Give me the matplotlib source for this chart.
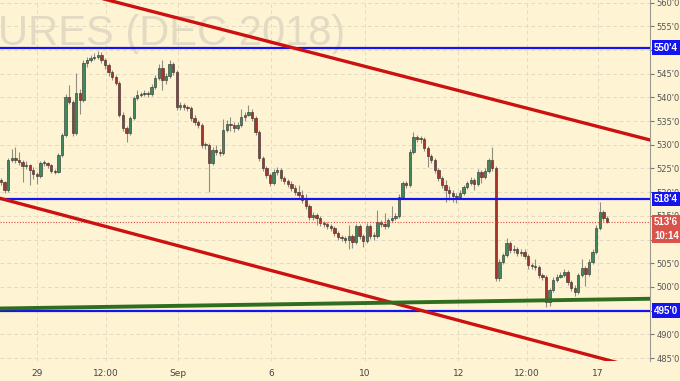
import numpy as np
import matplotlib.pyplot as plt
import matplotlib.transforms as mtransforms

# hourly-ish bars, price in cents
first_open = 522.6
closes = [522.1, 520.4, 526.8, 527.2, 526.8, 526.4, 525.5, 525.7, 524.7, 523.8,
          523.4, 526.1, 526.1, 525.7, 524.5, 524.3, 527.8, 532.0, 540.1, 539.0,
          532.5, 540.9, 539.4, 547.2, 547.9, 548.3, 548.5, 548.9, 547.9, 546.8,
          545.3, 544.3, 543.0, 536.3, 533.5, 532.5, 535.6, 539.9, 540.5, 540.7,
          540.9, 540.7, 542.2, 544.1, 546.2, 543.6, 544.5, 547.0, 545.3, 537.9,
          538.4, 537.9, 537.7, 535.6, 534.8, 534.1, 529.9, 529.9, 526.1, 528.9,
          528.5, 528.2, 533.1, 534.4, 534.1, 533.5, 534.1, 535.8, 536.3, 536.9,
          535.6, 532.7, 527.2, 525.1, 523.6, 521.9, 524.2, 524.7, 523.0, 522.3,
          521.7, 520.9, 520.0, 519.4, 518.3, 517.1, 514.8, 515.2, 514.6, 513.5,
          513.3, 512.8, 512.4, 511.4, 510.5, 510.3, 509.9, 510.7, 509.5, 512.8,
          510.7, 509.7, 512.8, 510.7, 510.7, 513.7, 513.3, 512.8, 514.1, 514.6,
          515.0, 519.0, 521.9, 521.5, 528.5, 531.6, 531.2, 531.2, 529.3, 527.6,
          526.8, 524.7, 523.0, 521.5, 520.4, 519.8, 519.2, 519.0, 519.8, 521.1,
          521.9, 522.6, 521.7, 524.2, 523.2, 524.5, 526.8, 525.1, 501.9, 505.3,
          506.7, 509.3, 507.8, 508.0, 507.2, 507.4, 506.5, 504.6, 504.4, 504.2,
          502.5, 502.1, 496.8, 499.3, 501.5, 502.1, 502.5, 503.1, 501.0, 499.8,
          498.9, 502.5, 504.0, 502.7, 505.3, 507.4, 512.4, 515.8, 514.6, 513.75]
highs = [523.0, 522.4, 527.3, 529.0, 529.5, 528.5, 526.8, 526.5, 526.0, 525.2,
         524.2, 526.6, 526.8, 526.4, 526.0, 524.9, 528.2, 532.5, 540.8, 542.5,
         539.5, 545.1, 541.8, 547.8, 548.5, 549.0, 549.4, 549.8, 549.5, 548.3,
         547.2, 545.8, 544.8, 543.4, 536.8, 534.0, 536.0, 540.3, 541.5, 541.2,
         541.5, 541.4, 542.8, 544.7, 547.0, 547.9, 545.2, 547.8, 547.4, 545.7,
         539.0, 538.9, 538.4, 538.1, 536.2, 535.3, 534.5, 530.6, 530.3, 529.5,
         530.0, 529.0, 535.5, 535.2, 535.8, 534.7, 534.7, 537.5, 537.0, 538.4,
         537.5, 536.0, 533.1, 527.6, 525.5, 524.0, 524.9, 525.3, 525.0, 523.4,
         522.7, 522.4, 521.4, 521.5, 520.5, 519.5, 517.5, 515.8, 515.6, 515.0,
         513.9, 513.7, 513.2, 512.8, 511.8, 510.9, 510.7, 513.0, 511.2, 513.3,
         513.2, 511.1, 513.4, 513.2, 511.6, 516.3, 514.2, 515.5, 514.6, 517.0,
         515.6, 519.5, 522.4, 522.3, 529.0, 532.6, 532.1, 531.8, 531.6, 529.7,
         528.1, 527.2, 525.1, 523.5, 522.6, 521.3, 520.4, 519.8, 520.5, 521.6,
         522.4, 523.2, 523.0, 524.8, 524.7, 525.0, 527.3, 529.5, 525.5, 505.8,
         507.2, 510.3, 509.7, 508.9, 508.4, 508.0, 507.9, 506.9, 505.0, 505.8,
         504.6, 503.0, 502.5, 499.8, 502.0, 502.7, 503.2, 503.7, 503.5, 501.4,
         500.3, 503.0, 505.8, 504.4, 505.8, 508.0, 513.0, 518.0, 516.2, 514.9]
lows = [521.6, 519.9, 520.0, 526.3, 526.2, 525.8, 522.1, 524.8, 521.5, 522.8,
        521.7, 523.0, 525.6, 525.0, 524.0, 523.8, 524.0, 527.4, 531.6, 538.5,
        531.8, 532.0, 536.5, 539.0, 546.5, 547.4, 547.9, 548.0, 547.3, 546.0,
        544.6, 543.6, 542.5, 535.8, 532.8, 530.6, 532.0, 535.2, 539.4, 540.0,
        540.2, 540.1, 540.3, 541.8, 543.7, 541.5, 542.9, 544.0, 544.7, 537.3,
        537.4, 537.3, 537.1, 535.0, 534.2, 533.5, 529.3, 529.2, 520.0, 525.7,
        527.9, 527.6, 527.8, 532.6, 532.9, 532.6, 533.0, 533.7, 535.0, 536.0,
        535.0, 532.1, 526.6, 524.5, 523.0, 521.3, 521.5, 523.6, 522.4, 521.7,
        521.0, 520.3, 519.4, 518.7, 517.6, 516.4, 514.1, 514.2, 513.0, 512.9,
        512.7, 512.2, 511.8, 510.8, 509.9, 509.7, 509.2, 507.9, 508.2, 509.1,
        510.1, 508.5, 509.3, 510.1, 510.0, 510.3, 512.7, 512.2, 512.4, 513.7,
        514.2, 514.6, 518.6, 520.8, 521.1, 528.1, 530.5, 530.4, 528.7, 525.3,
        526.2, 524.1, 522.4, 520.9, 517.9, 518.3, 518.0, 517.8, 518.5, 519.4,
        520.6, 521.4, 520.5, 521.3, 522.0, 522.8, 524.1, 524.5, 501.2, 501.2,
        504.8, 506.3, 507.2, 507.1, 506.5, 506.5, 505.8, 503.8, 503.7, 503.5,
        501.9, 501.5, 495.8, 496.0, 498.9, 501.0, 501.8, 502.0, 500.4, 499.2,
        498.1, 498.5, 502.1, 500.2, 502.3, 504.9, 507.0, 512.0, 513.9, 513.4]

price_ticks = list(range(485, 561, 5))
hidden_ticks = [495, 510, 550]   # covered by the price boxes
date_ticks = [10.0, 29.3, 49.4, 75.3, 101.5, 127.5, 146.7, 166.5]
date_labels = ['29', '12:00', 'Sep', '6', '10', '12', '12:00', '17']

levels = [550.5, 518.5, 495.0]
level_labels = ["550'4", "518'4", "495'0"]
last_price = 513.75
last_label = "513'6"
countdown = "10:14"

# trend lines as (bar, price) end points
upper_channel = ([0, 181], [566.35, 531.0])
lower_channel = ([0, 181], [518.63, 482.2])
support_line = ([0, 181], [495.45, 497.5])

BG = '#fef4d4'
UP = '#3f8a5c'
DOWN = '#a9332a'

fig = plt.figure(figsize=(6.8, 3.81), dpi=100, facecolor=BG)
ax = fig.add_axes([0, 20 / 381, 650 / 680, 361 / 381], facecolor=BG)

# candles
opens = [first_open] + closes[:-1]
x = np.arange(len(closes))
o = np.array(opens)
c = np.array(closes)
h = np.maximum(np.array(highs), np.maximum(o, c))
l = np.minimum(np.array(lows), np.minimum(o, c))
colors = [UP if cc >= oo else DOWN for oo, cc in zip(o, c)]
ax.vlines(x, l, h, color='#8e8e84', lw=0.8, zorder=2)
body = np.maximum(np.abs(c - o), 0.2)
ax.bar(x, body, bottom=np.minimum(o, c), width=0.65, color=colors,
       edgecolor='#2b2b2b', linewidth=0.4, zorder=3)

# watermark
ax.text(-2 / 650, 1 - 45 / 361, 'URES (DEC 2018)', transform=ax.transAxes,
        ha='left', va='baseline', fontsize=30, color='#e2dac2',
        family='Liberation Sans', zorder=1)

# lines
for lv in levels:
    ax.axhline(lv, color='#1414f0', lw=1.6, zorder=5)
ax.plot(*upper_channel, color='#cc1111', lw=2.4, zorder=5)
ax.plot(*lower_channel, color='#cc1111', lw=2.4, zorder=5)
ax.plot(*support_line, color='#2e6e1e', lw=2.8, zorder=5)
ax.axhline(last_price, color='#e04848', lw=0.8, ls=(0, (1, 1.5)), zorder=4)

ax.set_xlim(-0.28, 181)
ax.set_ylim(484.37, 560.53)

# axes styling
for side in ['top', 'left', 'bottom']:
    ax.spines[side].set_visible(False)
ax.spines['right'].set_color('#9a9a90')
ax.yaxis.tick_right()
ax.set_yticks(price_ticks)
ax.set_yticklabels(['' if p in hidden_ticks else f"{p}'0" for p in price_ticks])
ax.tick_params(axis='y', length=3, pad=1.5, labelsize=6, colors='#777777',
               labelcolor='#555555')
ax.set_xticks(date_ticks)
ax.set_xticklabels(date_labels)
ax.tick_params(axis='x', length=0, pad=6, labelsize=6.5, labelcolor='#444444')
ax.grid(True, color='#e3dbc3', ls=(0, (4, 3)), lw=0.7, zorder=0)

# price boxes on the right axis
trans = mtransforms.blended_transform_factory(ax.transAxes, ax.transData)
box_kw = dict(transform=trans, ha='left', va='center', fontsize=7,
              color='white', fontweight='bold', family='Liberation Sans',
              clip_on=False, zorder=10)
for lv, lab in zip(levels, level_labels):
    ax.text(1 + 4 / 650, lv, lab,
            bbox=dict(boxstyle='square,pad=0.22', fc='#1414f0', ec='none'), **box_kw)
ax.text(1 + 4 / 650, last_price, last_label,
        bbox=dict(boxstyle='square,pad=0.22', fc='#d9534a', ec='none'), **box_kw)
ax.annotate(countdown, xy=(1, last_price), xycoords=trans,
            xytext=(4 * 0.72, -14 * 0.72), textcoords='offset points',
            ha='left', va='center', fontsize=7, color='white', fontweight='bold',
            family='Liberation Sans',
            bbox=dict(boxstyle='square,pad=0.22', fc='#d9534a', ec='none'),
            annotation_clip=False, zorder=10)

fig.savefig('out.png', dpi=100, facecolor=BG)
